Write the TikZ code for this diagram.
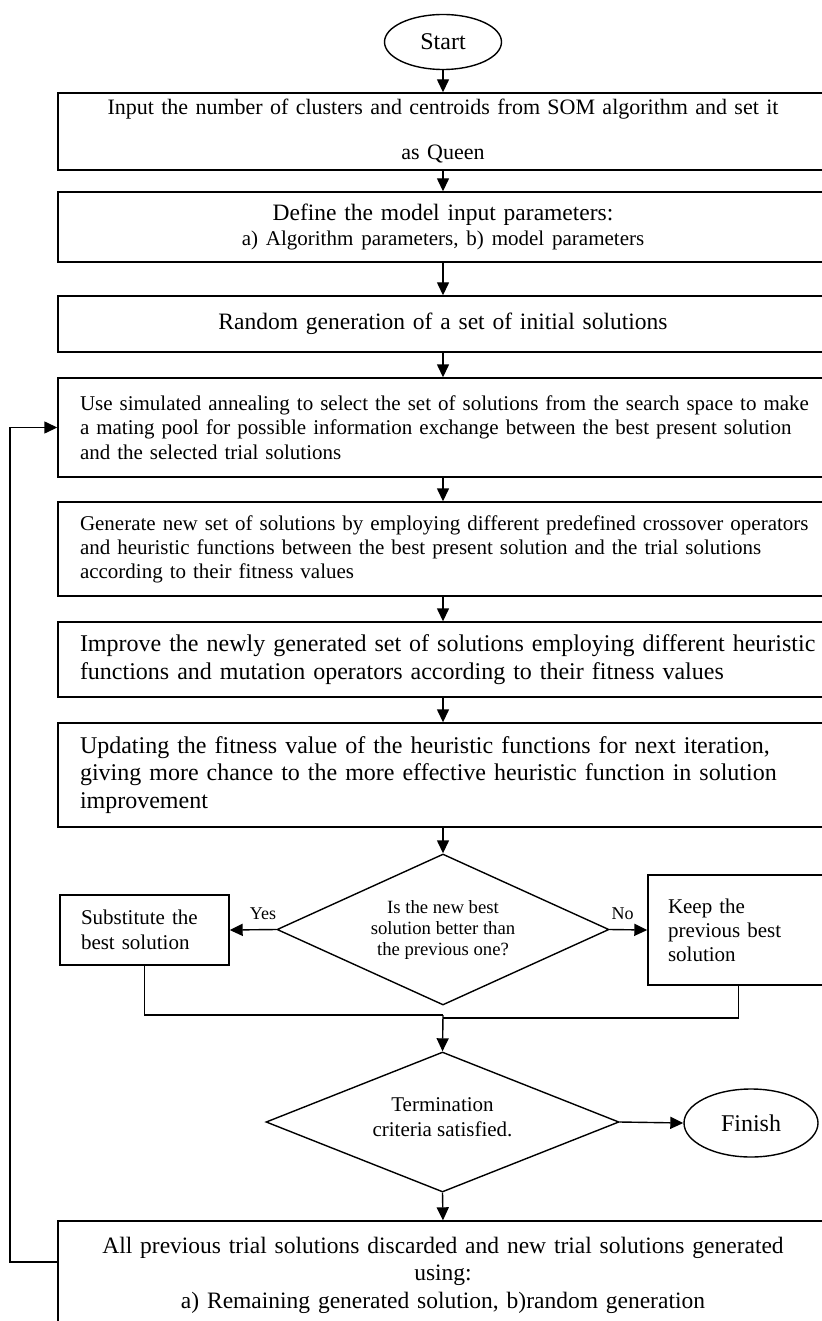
\documentclass[tikz,border=0pt]{standalone}
\usepackage{fontspec}
\setmainfont{Liberation Serif}
\usetikzlibrary{arrows.meta,shapes.geometric}
\newcommand{\jline}[1]{\makebox[726pt][s]{#1}}
\begin{document}
\begin{tikzpicture}[x=1pt,y=-1pt, line width=1.4pt,
  every node/.style={font=\fontsize{24}{28}\selectfont, inner sep=0pt},
  box/.style={draw, rectangle, minimum width=770pt, text width=726pt, align=center},
  jbox/.style={box, align=left},
  sbox/.style={draw, rectangle, align=left},
  term/.style={draw, ellipse},
  dec/.style={draw, diamond, align=center},
  arr/.style={-{Triangle[length=13pt,width=12pt]}},
  lbl/.style={font=\fontsize{18}{20}\selectfont}]
\useasboundingbox (0,0) rectangle (821,1321);
\node[term, minimum width=117pt, minimum height=55pt] (start) at (443,42) {Start};
\node[box, minimum height=77pt, font=\fontsize{22}{45}\selectfont] (b1) at (443,131.5)
  {Input the number of clusters and centroids from SOM algorithm and set it\\as Queen};
\node[box, minimum height=70pt, font=\fontsize{23.5}{25}\selectfont] (b2) at (443,227)
  {Define the model input parameters:\\{\fontsize{21}{25}\selectfont a) Algorithm parameters, b) model parameters}};
\node[box, minimum height=56pt, font=\fontsize{23.5}{28}\selectfont] (b3) at (443,324) {Random generation of a set of initial solutions};
\node[jbox, minimum height=99pt, font=\fontsize{21}{24.5}\selectfont] (b4) at (443,427.5)
  {\jline{Use simulated annealing to select the set of solutions from the search space to make}\\
   \jline{a mating pool for possible information exchange between the best present solution}\\
   and the selected trial solutions};
\node[jbox, minimum height=94pt, font=\fontsize{21}{24}\selectfont] (b5) at (443,549)
  {\jline{Generate new set of solutions by employing different predefined crossover operators}\\
   \jline{and heuristic functions between the best present solution and the trial solutions}\\
   according to their fitness values};
\node[jbox, minimum height=75pt, font=\fontsize{24}{28}\selectfont] (b6) at (443,659.5)
  {\jline{Improve the newly generated set of solutions employing different heuristic}\\
   functions and mutation operators according to their fitness values};
\node[jbox, minimum height=104pt, font=\fontsize{24}{27.5}\selectfont] (b7) at (443,775)
  {\jline{Updating the fitness value of the heuristic functions for next iteration,}\\
   \jline{giving more chance to the more effective heuristic function in solution}\\
   improvement};
\node[dec, shape aspect=2.2, minimum width=332pt, minimum height=151pt, font=\fontsize{18.7}{21}\selectfont] (d1) at (443,929.5)
  {Is the new best\\solution better than\\the previous one?};
\node[sbox, minimum width=169pt, minimum height=70pt, text width=127pt, font=\fontsize{21}{25}\selectfont] (sub) at (144.5,930)
  {Substitute the\\best solution};
\node[sbox, minimum width=181pt, minimum height=110pt, text width=141pt, font=\fontsize{21}{24}\selectfont] (keep) at (738.5,930)
  {Keep the\\previous best\\solution\par\vspace{12pt}};
\coordinate (m) at (443,1015);
\coordinate (m2) at (443,1018);
\node[dec, shape aspect=2.52, minimum width=353pt, minimum height=140pt, font=\fontsize{21}{25}\selectfont] (d2) at (442.5,1122)
  {Termination\\criteria satisfied.\par\vspace{9pt}};
\node[term, minimum width=134pt, minimum height=68pt] (fin) at (751,1123) {Finish};
\node[box, minimum height=108pt, font=\fontsize{23.5}{27.5}\selectfont] (b8) at (443,1275)
  {All previous trial solutions discarded and new trial solutions generated\\using:\\a) Remaining generated solution, b)random generation};
\coordinate (lp) at (10,1262);

\draw[arr] (start) -- (b1);
\draw[arr] (b1) -- (b2);
\draw[arr] (b2) -- (b3);
\draw[arr] (b3) -- (b4);
\draw[arr] (b4) -- (b5);
\draw[arr] (b5) -- (b6);
\draw[arr] (b6) -- (b7);
\draw[arr] (b7) -- (d1);
\draw[arr] (d1.west) -- node[lbl, above=9pt, xshift=10pt] (yes) {Yes} (sub.east);
\draw[arr] (d1.east) -- node[lbl, above=9pt, xshift=-6pt] (no) {No} (keep.west);
\draw (sub.south) |- (m);
\draw (keep.south) |- (m2);
\draw[arr] (m) -- (d2.north);
\draw[arr] (d2.east) -- (fin.west);
\draw[arr] (d2.south) -- (b8.north);
\draw[arr] (b8.west |- lp) -- (lp) |- (b4.west);
\end{tikzpicture}
\end{document}
